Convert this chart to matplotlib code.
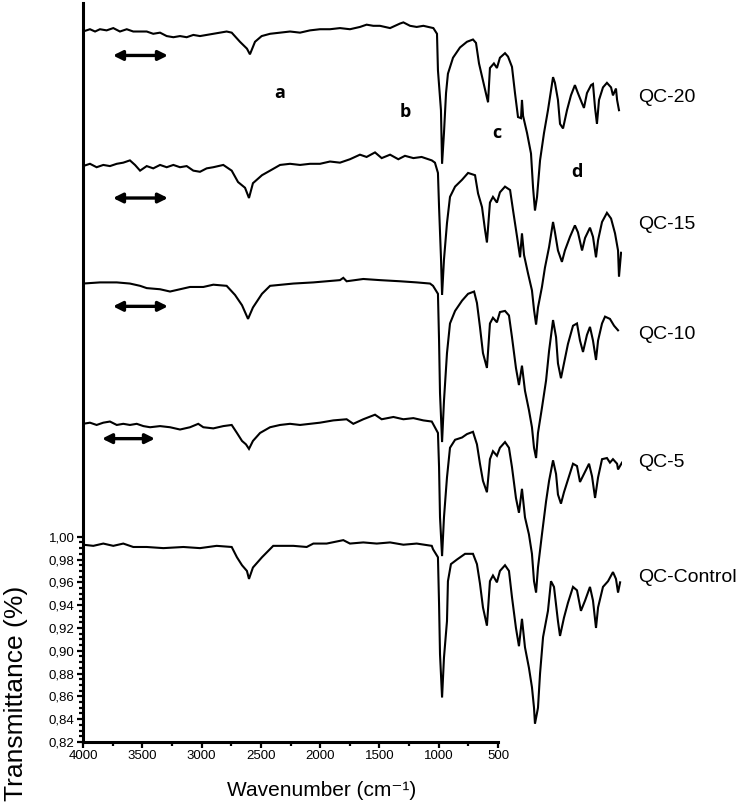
import matplotlib
matplotlib.use("Agg")
import matplotlib.pyplot as plt
from matplotlib.ticker import FixedLocator, FuncFormatter

plt.rcParams['font.family'] = ['Liberation Sans', 'DejaVu Sans']

# ------------------------------
# Spectra data
# ------------------------------
labels = ['QC-Control', 'QC-5', 'QC-10', 'QC-15', 'QC-20']
offsets = [0.0, 0.106, 0.230, 0.332, 0.451]
label_y = [0.964, 1.065, 1.177, 1.2735, 1.385]

wn_ctrl = [4000, 3935, 3872, 3809, 3746, 3683, 3598, 3493, 3367, 3262, 3157, 3062, 3029, 2997, 2966,
           2953, 2928, 2871, 2800, 2673, 2589, 2547, 2463, 2358, 2316, 2232, 2147, 2063, 1979, 1895,
           1800, 1792, 1761, 1754, 1748, 1735, 1723, 1704, 1698, 1679, 1641, 1590, 1540, 1515, 1496,
           1477, 1452, 1433, 1414, 1389, 1370, 1338, 1313, 1294, 1269, 1250, 1231, 1212, 1187, 1168,
           1155, 1149, 1130, 1117, 1098, 1067, 1048, 1029, 1004, 991, 966, 941, 909, 884, 859, 833,
           802, 783, 764, 751, 720, 688, 657, 638, 625, 612]
t_ctrl = [0.993, 0.992, 0.994, 0.992, 0.994, 0.991, 0.991, 0.990, 0.991, 0.990, 0.992, 0.991, 0.982,
          0.975, 0.970, 0.963, 0.973, 0.982, 0.992, 0.992, 0.991, 0.994, 0.994, 0.997, 0.994, 0.995,
          0.994, 0.995, 0.993, 0.994, 0.992, 0.989, 0.982, 0.941, 0.897, 0.859, 0.894, 0.926, 0.961,
          0.976, 0.980, 0.985, 0.985, 0.976, 0.959, 0.938, 0.922, 0.961, 0.966, 0.960, 0.970, 0.975,
          0.970, 0.947, 0.920, 0.904, 0.928, 0.903, 0.885, 0.868, 0.850, 0.836, 0.850, 0.880, 0.912,
          0.935, 0.961, 0.956, 0.926, 0.913, 0.929, 0.942, 0.956, 0.953, 0.935, 0.944, 0.956, 0.944,
          0.920, 0.938, 0.956, 0.961, 0.969, 0.963, 0.951, 0.960]

wn_qc5 = [4000, 3956, 3914, 3872, 3830, 3787, 3746, 3704, 3661, 3619, 3577, 3514, 3451, 3388, 3325,
          3273, 3241, 3178, 3115, 3062, 3029, 2997, 2972, 2953, 2928, 2883, 2820, 2757, 2694, 2631,
          2568, 2505, 2421, 2337, 2295, 2232, 2158, 2116, 2042, 1979, 1916, 1853, 1800, 1792, 1761,
          1754, 1748, 1735, 1723, 1704, 1685, 1653, 1609, 1578, 1540, 1515, 1496, 1477, 1452, 1433,
          1414, 1389, 1370, 1338, 1313, 1294, 1269, 1250, 1231, 1212, 1187, 1168, 1155, 1142, 1130,
          1105, 1079, 1060, 1035, 1016, 1004, 985, 966, 941, 909, 884, 865, 840, 808, 789, 770, 751,
          726, 695, 676, 657, 631, 625, 600]
t_qc5 = [0.993, 0.994, 0.992, 0.994, 0.995, 0.992, 0.993, 0.992, 0.993, 0.991, 0.990, 0.991, 0.990,
         0.988, 0.990, 0.993, 0.990, 0.989, 0.991, 0.992, 0.985, 0.978, 0.975, 0.971, 0.978, 0.985,
         0.990, 0.992, 0.993, 0.992, 0.993, 0.994, 0.996, 0.997, 0.993, 0.997, 1.001, 0.997, 0.999,
         0.997, 0.998, 0.996, 0.995, 0.993, 0.985, 0.955, 0.911, 0.877, 0.911, 0.946, 0.972, 0.979,
         0.981, 0.984, 0.986, 0.975, 0.958, 0.943, 0.933, 0.962, 0.969, 0.965, 0.972, 0.977, 0.972,
         0.955, 0.928, 0.915, 0.936, 0.911, 0.896, 0.879, 0.855, 0.845, 0.867, 0.896, 0.925, 0.943,
         0.961, 0.949, 0.931, 0.923, 0.933, 0.944, 0.958, 0.956, 0.942, 0.949, 0.958, 0.947, 0.928,
         0.946, 0.962, 0.963, 0.959, 0.962, 0.958, 0.953, 0.959]

wn_qc10 = [4000, 3893, 3787, 3704, 3640, 3598, 3514, 3451, 3388, 3325, 3241, 3178, 3094, 3041, 2997,
           2959, 2928, 2871, 2820, 2673, 2547, 2379, 2358, 2337, 2232, 2127, 2000, 1895, 1811, 1792,
           1761, 1754, 1748, 1735, 1723, 1704, 1685, 1653, 1609, 1571, 1533, 1515, 1496, 1477, 1452,
           1433, 1414, 1389, 1370, 1338, 1313, 1294, 1269, 1250, 1231, 1212, 1187, 1168, 1155, 1142,
           1130, 1105, 1079, 1060, 1035, 1016, 1004, 985, 966, 941, 909, 884, 865, 846, 821, 802, 783,
           764, 751, 726, 707, 676, 650, 625]
t_qc10 = [0.992, 0.993, 0.993, 0.992, 0.990, 0.988, 0.987, 0.985, 0.987, 0.989, 0.989, 0.991, 0.990,
          0.982, 0.973, 0.961, 0.971, 0.983, 0.990, 0.992, 0.993, 0.995, 0.997, 0.994, 0.996, 0.995,
          0.994, 0.993, 0.992, 0.990, 0.983, 0.942, 0.896, 0.853, 0.889, 0.931, 0.957, 0.968, 0.977,
          0.983, 0.985, 0.975, 0.954, 0.931, 0.918, 0.957, 0.962, 0.958, 0.967, 0.968, 0.964, 0.945,
          0.918, 0.903, 0.920, 0.898, 0.881, 0.866, 0.848, 0.839, 0.861, 0.883, 0.907, 0.933, 0.960,
          0.945, 0.922, 0.909, 0.922, 0.939, 0.955, 0.957, 0.942, 0.932, 0.947, 0.954, 0.942, 0.925,
          0.942, 0.957, 0.963, 0.961, 0.955, 0.951]

wn_qc15 = [4000, 3956, 3914, 3872, 3830, 3787, 3746, 3704, 3672, 3640, 3598, 3557, 3514, 3472, 3430,
           3388, 3346, 3304, 3262, 3220, 3178, 3115, 3062, 3022, 2978, 2953, 2928, 2871, 2820, 2757,
           2694, 2631, 2568, 2505, 2442, 2379, 2316, 2253, 2211, 2158, 2116, 2063, 2011, 1969, 1916,
           1864, 1800, 1780, 1761, 1754, 1742, 1735, 1723, 1704, 1685, 1653, 1609, 1571, 1527, 1508,
           1483, 1464, 1452, 1433, 1414, 1389, 1370, 1338, 1306, 1287, 1262, 1243, 1231, 1218, 1193,
           1168, 1155, 1142, 1130, 1105, 1086, 1060, 1035, 1023, 1004, 979, 960, 928, 897, 878, 852,
           833, 802, 783, 764, 751, 726, 695, 669, 644, 625, 619, 606]
t_qc15 = [0.993, 0.995, 0.992, 0.994, 0.993, 0.995, 0.996, 0.998, 0.994, 0.989, 0.993, 0.991, 0.994,
          0.992, 0.994, 0.992, 0.993, 0.989, 0.988, 0.991, 0.992, 0.994, 0.989, 0.979, 0.974, 0.965,
          0.978, 0.985, 0.989, 0.994, 0.995, 0.994, 0.995, 0.995, 0.997, 0.996, 0.999, 1.003, 1.001,
          1.005, 1.000, 1.003, 0.999, 1.002, 1.000, 1.001, 0.998, 0.996, 0.987, 0.957, 0.913, 0.880,
          0.911, 0.943, 0.966, 0.975, 0.981, 0.987, 0.985, 0.969, 0.957, 0.937, 0.926, 0.961, 0.966,
          0.961, 0.970, 0.975, 0.972, 0.954, 0.931, 0.913, 0.934, 0.915, 0.899, 0.884, 0.867, 0.854,
          0.869, 0.887, 0.904, 0.922, 0.944, 0.935, 0.919, 0.909, 0.919, 0.931, 0.941, 0.935, 0.919,
          0.930, 0.939, 0.931, 0.913, 0.928, 0.944, 0.952, 0.947, 0.934, 0.919, 0.896, 0.917]

wn_qc20 = [4000, 3956, 3924, 3893, 3851, 3809, 3767, 3724, 3683, 3640, 3598, 3557, 3514, 3472, 3430,
           3388, 3346, 3304, 3262, 3220, 3178, 3136, 3094, 3062, 3010, 2966, 2947, 2915, 2873, 2820,
           2757, 2694, 2631, 2568, 2505, 2442, 2379, 2316, 2253, 2211, 2169, 2127, 2063, 2000, 1979,
           1937, 1895, 1853, 1790, 1767, 1761, 1742, 1735, 1723, 1710, 1698, 1666, 1622, 1578, 1540,
           1521, 1502, 1477, 1452, 1445, 1433, 1408, 1389, 1370, 1338, 1319, 1294, 1275, 1256, 1237,
           1231, 1224, 1199, 1174, 1161, 1149, 1136, 1117, 1092, 1067, 1035, 1023, 1004, 991, 972,
           947, 922, 897, 878, 852, 840, 821, 795, 783, 770, 758, 745, 720, 695, 669, 657, 638, 631, 619]
t_qc20 = [0.992, 0.994, 0.992, 0.994, 0.993, 0.995, 0.992, 0.994, 0.992, 0.992, 0.992, 0.990, 0.991,
          0.988, 0.987, 0.988, 0.987, 0.989, 0.988, 0.989, 0.990, 0.991, 0.992, 0.991, 0.983, 0.977,
          0.972, 0.983, 0.988, 0.990, 0.991, 0.992, 0.991, 0.993, 0.994, 0.994, 0.995, 0.994, 0.996,
          0.998, 0.997, 0.997, 0.995, 0.999, 1.000, 0.997, 0.996, 0.997, 0.995, 0.990, 0.958, 0.923,
          0.876, 0.903, 0.938, 0.955, 0.969, 0.978, 0.983, 0.985, 0.982, 0.964, 0.949, 0.934, 0.930,
          0.960, 0.964, 0.960, 0.969, 0.973, 0.970, 0.961, 0.938, 0.917, 0.916, 0.932, 0.918, 0.903,
          0.885, 0.855, 0.835, 0.847, 0.879, 0.903, 0.923, 0.952, 0.947, 0.932, 0.911, 0.907, 0.923,
          0.936, 0.945, 0.938, 0.929, 0.925, 0.938, 0.945, 0.946, 0.925, 0.911, 0.932, 0.943, 0.947,
          0.943, 0.936, 0.942, 0.932, 0.923]

spectra = [(wn_ctrl, t_ctrl), (wn_qc5, t_qc5), (wn_qc10, t_qc10), (wn_qc15, t_qc15), (wn_qc20, t_qc20)]

# band markers a-d and the double arrows
band_letters = ['a', 'b', 'c', 'd']
band_x = [2757, 1969, 1388, 884]
band_y = [1.389, 1.372, 1.354, 1.320]
arrow_x = [(3811, 3464), (3811, 3464), (3811, 3464), (3880, 3546)]
arrow_y = [1.422, 1.297, 1.202, 1.086]

# ------------------------------
# Figure
# ------------------------------
W, H = 746, 806
fig = plt.figure(figsize=(W / 100, H / 100), dpi=100)
bottom = (H - 742) / H
height = (742 - 3) / H
ax = fig.add_axes([83 / W, bottom, (498 - 83) / W, height])
sp = fig.add_axes([83 / W, bottom, (622 - 83) / W, height], sharey=ax)

ax.set_xlim(4000, 500)
ax.set_ylim(0.82, 1.468)
for s in ['top', 'right']:
    ax.spines[s].set_visible(False)
ax.spines['left'].set_linewidth(2.2)
ax.spines['bottom'].set_linewidth(2.2)

ax.xaxis.set_major_locator(FixedLocator(list(range(4000, 499, -500))))
ax.xaxis.set_minor_locator(FixedLocator(list(range(3750, 700, -500))))
ax.yaxis.set_major_locator(FixedLocator([0.82 + 0.02 * i for i in range(10)]))
ax.yaxis.set_minor_locator(FixedLocator([0.82 + 0.005 * i for i in range(37)]))
ax.yaxis.set_major_formatter(FuncFormatter(lambda v, p: f"{v:.2f}".replace('.', ',')))
ax.tick_params(which='both', direction='out', width=1.6, labelsize=9.5, colors='black')
ax.tick_params(which='major', length=4, pad=2)
ax.tick_params(which='minor', length=3)

sp.set_xlim(4000, 600)
sp.axis('off')
sp.patch.set_visible(False)

for (wn, t), off in zip(spectra, offsets):
    sp.plot(wn, [v + off for v in t], color='black', lw=1.5, solid_joinstyle='miter')

tr = sp.get_yaxis_transform()
for lab, y in zip(labels, label_y):
    sp.text(1.0297, y, lab, transform=tr, fontsize=14, va='center', ha='left')

for lt, x, y in zip(band_letters, band_x, band_y):
    sp.text(x, y, lt, fontsize=13, fontweight='bold', ha='center', va='center',
            family=['Open Sans', 'DejaVu Sans'])

for (x1, x2), y in zip(arrow_x, arrow_y):
    sp.annotate('', xy=(x1, y), xytext=(x2, y),
                arrowprops=dict(arrowstyle='<|-|>', lw=2.4, color='black', mutation_scale=14,
                                shrinkA=0, shrinkB=0))

fig.text(322 / W, 1 - 791 / H, 'Wavenumber (cm\u207b\u00b9)', ha='center', va='center', fontsize=15)
fig.text(16 / W, 1 - 693 / H, 'Transmittance (%)', rotation=90, ha='center', va='center', fontsize=19)

fig.savefig('out.png', dpi=100)
